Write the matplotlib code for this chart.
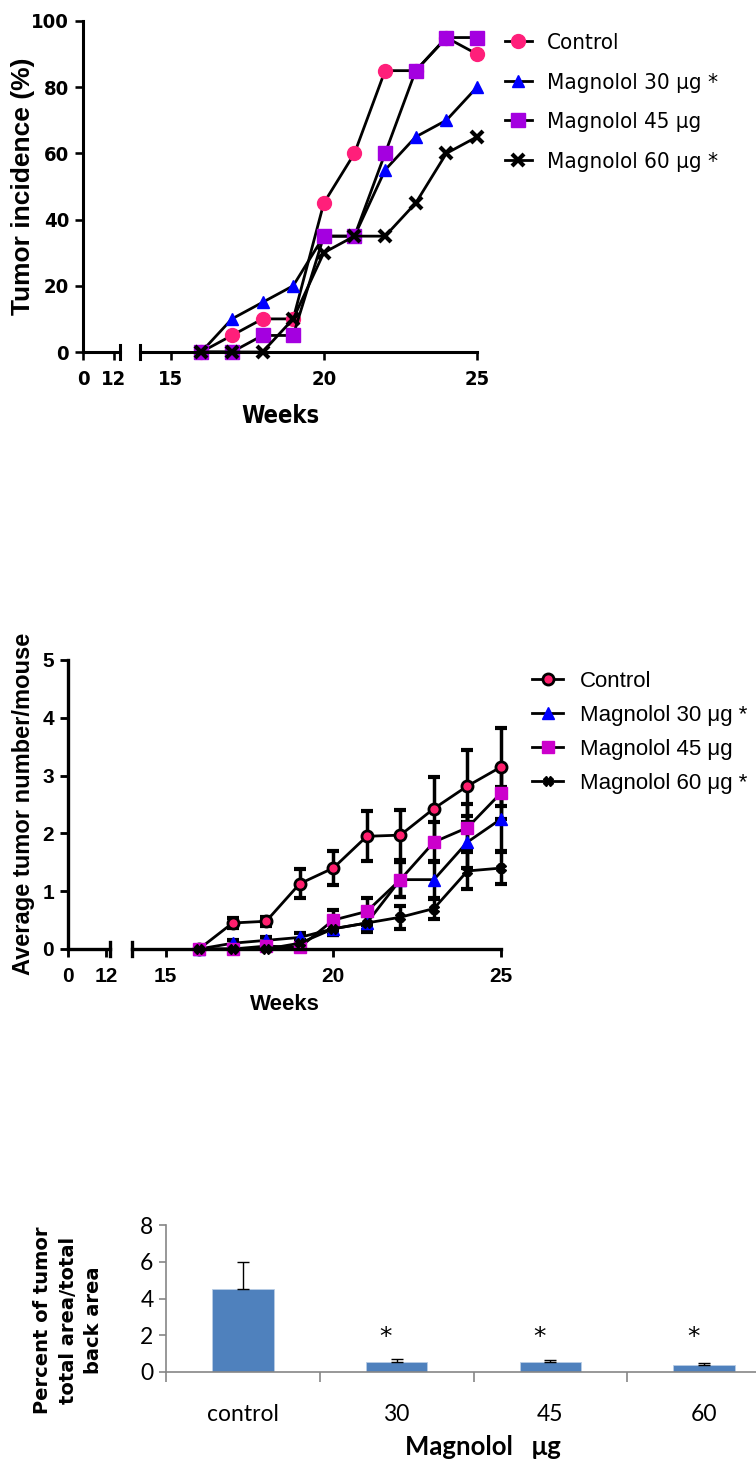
import matplotlib
matplotlib.use('Agg')
import matplotlib.pyplot as plt
import numpy as np
from matplotlib.font_manager import FontProperties

# weeks of observation (first tumors from week 16)
weeks = [16, 17, 18, 19, 20, 21, 22, 23, 24, 25]
group_labels = ['Control', 'Magnolol 30 μg *', 'Magnolol 45 μg', 'Magnolol 60 μg *']

# panel A: tumor incidence (%)
incidence_control = [0, 5, 10, 10, 45, 60, 85, 85, 95, 90]
incidence_mag30 = [0, 10, 15, 20, 35, 35, 55, 65, 70, 80]
incidence_mag45 = [0, 0, 5, 5, 35, 35, 60, 85, 95, 95]
incidence_mag60 = [0, 0, 0, 10, 30, 35, 35, 45, 60, 65]

# panel B: average tumor number per mouse, with error
number_control = [0, 0.45, 0.48, 1.13, 1.4, 1.95, 1.97, 2.43, 2.82, 3.15]
number_control_err = [0, 0.08, 0.08, 0.25, 0.3, 0.43, 0.43, 0.55, 0.62, 0.68]
number_mag30 = [0, 0.1, 0.15, 0.2, 0.35, 0.45, 1.2, 1.2, 1.85, 2.25]
number_mag30_err = [0, 0.05, 0.06, 0.07, 0.1, 0.12, 0.3, 0.33, 0.45, 0.55]
number_mag45 = [0, 0, 0.05, 0.03, 0.5, 0.65, 1.2, 1.85, 2.1, 2.7]
number_mag45_err = [0, 0, 0.04, 0.03, 0.17, 0.23, 0.3, 0.35, 0.4, 0.45]
number_mag60 = [0, 0, 0, 0.1, 0.35, 0.45, 0.55, 0.7, 1.35, 1.4]
number_mag60_err = [0, 0, 0, 0.05, 0.1, 0.15, 0.2, 0.18, 0.32, 0.28]

# panel C: tumor area
dose_labels = ['control', '30', '45', '60']
area_percent = [4.5, 0.55, 0.53, 0.38]
area_err = [1.5, 0.15, 0.15, 0.1]
significant = [False, True, True, True]

W, H = 756, 1461
fig = plt.figure(figsize=(W / 100, H / 100), dpi=100)


def fx(px):
    return px / W


def fy(py):
    return 1 - py / H


fp_tickA = FontProperties(family='DejaVu Sans', stretch='condensed', weight='bold', size=14.5)
fp_legA = FontProperties(family='DejaVu Sans', stretch='condensed', size=16)
fp_tickB = FontProperties(family='Liberation Sans', weight='bold', size=15)
fp_legB = FontProperties(family='Liberation Sans', size=16)


def broken_axes(left_px, break_px, right_start_px, right_px, top_px, bottom_px,
                left_xmax, ymax, yticks, fp, lw):
    b = fy(bottom_px)
    h = (bottom_px - top_px) / H
    axL = fig.add_axes([fx(left_px), b, (break_px - left_px) / W, h])
    axR = fig.add_axes([fx(right_start_px), b, (right_px - right_start_px) / W, h])
    axL.set_xlim(0, left_xmax)
    axR.set_xlim(14, 25)
    for ax in (axL, axR):
        ax.set_ylim(0, ymax)
        ax.spines['top'].set_visible(False)
        ax.spines['right'].set_visible(False)
        ax.spines['bottom'].set_linewidth(lw)
        ax.spines['left'].set_linewidth(lw)
        ax.tick_params(width=lw * 0.85, length=6, pad=4)
        ax.tick_params(axis='x', pad=7)
        ax.patch.set_alpha(0)
    axR.spines['left'].set_visible(False)
    axR.tick_params(axis='y', left=False, labelleft=False)
    axL.set_yticks(yticks)
    axL.set_xticks([0, 12])
    axR.set_xticks([15, 20, 25])
    for ax in (axL, axR):
        for lbl in ax.get_xticklabels() + ax.get_yticklabels():
            lbl.set_fontproperties(fp)
    dy = 7 / (bottom_px - top_px)
    axL.plot([1, 1], [-dy, dy], transform=axL.transAxes, color='black', lw=lw, clip_on=False)
    axR.plot([0, 0], [-dy, dy], transform=axR.transAxes, color='black', lw=lw, clip_on=False)
    return axL, axR


# ---------------- panel A ----------------
aL, aR = broken_axes(83, 120, 140, 477, 21, 352, 14.32, 100, [0, 20, 40, 60, 80, 100], fp_tickA, 2.2)
lw = 2.0
hA = []
hA += aR.plot(weeks, incidence_control, color='black', lw=lw, marker='o', ms=10,
              mfc='#ff1f7a', mec='#ff1f7a', clip_on=False)
hA += aR.plot(weeks, incidence_mag30, color='black', lw=lw, marker='^', ms=8,
              mfc='#0000ff', mec='#0000ff', clip_on=False)
hA += aR.plot(weeks, incidence_mag45, color='black', lw=lw, marker='s', ms=10,
              mfc='#a400e0', mec='#a400e0', clip_on=False)
hA += aR.plot(weeks, incidence_mag60, color='black', lw=lw, marker='x', ms=8, mew=3,
              mfc='black', mec='black', clip_on=False)
aR.legend(hA, group_labels, loc='upper left', bbox_to_anchor=(fx(505), fy(33)),
          bbox_transform=fig.transFigure, frameon=False, prop=fp_legA, borderpad=0,
          borderaxespad=0, handlelength=1.2, handletextpad=0.7, labelspacing=0.88)
fig.text(fx(23), fy(186), 'Tumor incidence (%)', rotation=90, ha='center', va='center',
         fontsize=19, fontweight='bold', family='Liberation Sans')
fig.text(fx(280), fy(416), 'Weeks', ha='center', va='center', fontsize=17,
         fontweight='bold', fontstretch='condensed', family='DejaVu Sans')

# ---------------- panel B ----------------
bL, bR = broken_axes(68, 110, 132, 501, 660, 949, 13.26, 5, [0, 1, 2, 3, 4, 5], fp_tickB, 2.4)
series_B = [
    (number_control, number_control_err, 'o', 8, '#ff1f6e', 'black'),
    (number_mag30, number_mag30_err, '^', 8, '#0000ff', '#0000ff'),
    (number_mag45, number_mag45_err, 's', 8, '#cc00cc', '#cc00cc'),
    (number_mag60, number_mag60_err, 'X', 7, 'black', 'black'),
]
hB = []
for vals, err, mk, ms, fc, ec in series_B:
    bR.errorbar(weeks, vals, yerr=err, fmt='none', ecolor='black', elinewidth=2.5,
                capsize=4.5, capthick=3, clip_on=False)
for vals, err, mk, ms, fc, ec in series_B:
    hB += bR.plot(weeks, vals, color='black', lw=2.0, marker=mk, ms=ms, mfc=fc, mec=ec,
                  mew=2 if mk == 'o' else 1, clip_on=False)
bR.legend(hB, group_labels, loc='upper left', bbox_to_anchor=(fx(532), fy(671)),
          bbox_transform=fig.transFigure, frameon=False, prop=fp_legB, borderpad=0,
          borderaxespad=0, handlelength=1.4, handletextpad=0.75, labelspacing=0.58)
fig.text(fx(24), fy(804), 'Average tumor number/mouse', rotation=90, ha='center',
         va='center', fontsize=17, fontweight='bold', family='Liberation Sans')
fig.text(fx(285), fy(1004), 'Weeks', ha='center', va='center', fontsize=16,
         fontweight='bold', family='Liberation Sans')

# ---------------- panel C ----------------
cx = fig.add_axes([fx(166), fy(1372), 615 / W, 147 / H])
pos = np.arange(len(dose_labels))
cx.bar(pos, area_percent, width=0.4, color='#4f81bd', edgecolor='#b9cde5', linewidth=0.6,
       yerr=[np.zeros(len(area_err)), area_err], error_kw=dict(ecolor='black', elinewidth=1,
                                                             capsize=4, capthick=1))
cx.set_xlim(-0.5, 3.5)
cx.set_ylim(0, 8)
cx.set_yticks([0, 2, 4, 6, 8])
cx.set_xticks(pos)
cx.set_xticklabels(dose_labels)
cx.set_xticks(np.arange(-0.5, 4, 1), minor=True)
for s in ['top', 'right']:
    cx.spines[s].set_visible(False)
for s in ['left', 'bottom']:
    cx.spines[s].set_color('#868686')
    cx.spines[s].set_linewidth(1.2)
cx.tick_params(axis='x', which='major', length=0, pad=23)
cx.tick_params(axis='x', which='minor', length=7, width=1.2, color='#868686')
cx.tick_params(axis='y', length=5, width=1.2, color='#868686', pad=4)
for lbl in cx.get_xticklabels() + cx.get_yticklabels():
    lbl.set_fontfamily('Lato')
    lbl.set_fontsize(16.5)
for i, sig in enumerate(significant):
    if sig:
        cx.text(pos[i] - 0.07, 1.25, '*', ha='center', va='bottom', fontsize=18,
                family='DejaVu Sans')
fig.text(fx(68), fy(1320), 'Percent of tumor\ntotal area/total\nback area', rotation=90,
         ha='center', va='center', fontsize=14, fontweight='bold', family='DejaVu Sans',
         linespacing=1.42)
fig.text(fx(483), fy(1447), 'Magnolol   μg', ha='center', va='center', fontsize=18.5,
         fontweight='bold', family='Lato')

fig.savefig('out.png', dpi=100)
